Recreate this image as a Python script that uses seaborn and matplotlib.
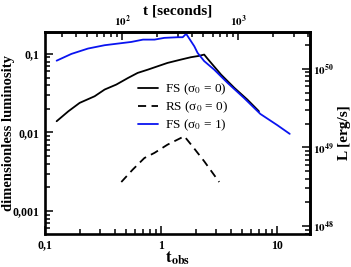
import numpy as np
import matplotlib
matplotlib.use("Agg")
import matplotlib.pyplot as plt
import seaborn as sns
from matplotlib.ticker import (FixedLocator, FixedFormatter, LogLocator, NullFormatter,
                               FuncFormatter)

sns.set_theme(style="ticks", rc={"axes.edgecolor": "black", "xtick.color": "black",
                                 "ytick.color": "black", "text.color": "black",
                                 "axes.labelcolor": "black"})
plt.rcParams['font.family'] = ['Liberation Serif', 'DejaVu Serif']
plt.rcParams['mathtext.fontset'] = 'stix'

# ---- data ----
fs0_t = [0.126, 0.159, 0.199, 0.268, 0.327, 0.412, 0.52, 0.63, 0.77, 0.94, 1.14, 1.49,
         1.81, 2.10, 2.36, 2.52, 3.3, 4.3, 5.56, 7.0]
fs0_l = [0.0139, 0.0186, 0.0238, 0.0289, 0.0352, 0.0407, 0.0494, 0.0573, 0.063, 0.0697,
         0.0768, 0.0847, 0.0907, 0.094, 0.098, 0.087, 0.0545, 0.0369, 0.0262, 0.0186]

rs0_t = [0.455, 0.57, 0.72, 0.88, 1.14, 1.59, 1.87, 2.36, 3.18]
rs0_l = [0.00234, 0.00336, 0.00473, 0.0055, 0.0070, 0.00895, 0.00667, 0.0043, 0.00234]

fs1_t = [0.126, 0.169, 0.235, 0.327, 0.455, 0.555, 0.70, 0.88, 1.07, 1.40, 1.54, 1.65,
         1.94, 2.07, 2.36, 2.88, 3.75, 5.20, 7.2, 10.07, 12.9]
fs1_l = [0.082, 0.100, 0.117, 0.129, 0.137, 0.142, 0.152, 0.152, 0.160, 0.163, 0.163, 0.180,
         0.125, 0.103, 0.081, 0.063, 0.0428, 0.0275, 0.0172, 0.0124, 0.0096]

series_labels = ["FS (σ$_0$ = 0)", "RS (σ$_0$ = 0)", "FS (σ$_0$ = 1)"]

x_ticks = [0.1, 1, 10]
x_ticklabels = ["0,1", "1", "10"]
y_ticks = [0.1, 0.01, 0.001]
y_ticklabels = ["0,1", "0,01", "0,001"]
top_ticks = [1e2, 1e3]
right_ticks = [1e48, 1e49, 1e50]

T_SCALE = 215.0      # t [s] = T_SCALE * t_obs
L_SCALE = 1.55e51    # L [erg/s] = L_SCALE * dimensionless luminosity

fig = plt.figure(figsize=(3.51, 2.67), dpi=100)
ax = fig.add_axes([45 / 351, 1 - 234 / 267, 265 / 351, 202 / 267])
ax.set_xscale("log")
ax.set_yscale("log")

sns.lineplot(x=fs0_t, y=fs0_l, ax=ax, color="black", lw=1.3, sort=False,
             label=series_labels[0])
sns.lineplot(x=rs0_t, y=rs0_l, ax=ax, color="black", lw=1.3, sort=False,
             linestyle=(0, (4.5, 3)), label=series_labels[1])
sns.lineplot(x=fs1_t, y=fs1_l, ax=ax, color="#0a14f0", lw=1.3, sort=False,
             label=series_labels[2])

ax.set_xlim(0.1, 19.3)
ax.set_ylim(5.1e-4, 0.19)

ax.xaxis.set_major_locator(FixedLocator(x_ticks))
ax.xaxis.set_major_formatter(FixedFormatter(x_ticklabels))
ax.xaxis.set_minor_locator(LogLocator(base=10, subs=range(2, 10)))
ax.xaxis.set_minor_formatter(NullFormatter())
ax.yaxis.set_major_locator(FixedLocator(y_ticks))
ax.yaxis.set_major_formatter(FixedFormatter(y_ticklabels))
ax.yaxis.set_minor_locator(LogLocator(base=10, subs=range(2, 10)))
ax.yaxis.set_minor_formatter(NullFormatter())

ax.tick_params(which="both", direction="in", top=False, right=False, width=1.1,
               labelsize=8.5, pad=4, colors="black")
ax.tick_params(which="major", length=6)
ax.tick_params(which="minor", length=3.5)
for lab in ax.get_xticklabels() + ax.get_yticklabels():
    lab.set_fontweight("bold")
for sp in ax.spines.values():
    sp.set_linewidth(1.9)

ax.set_xlabel(r"$\mathbf{t_{obs}}$", fontsize=12.5)
ax.xaxis.set_label_coords(0.5, -0.075)
ax.set_ylabel("dimensionless luminosity", fontsize=10.5, fontweight="bold")
ax.yaxis.set_label_coords(-0.115, 0.5)

pow_fmt = FuncFormatter(lambda v, p: r"$\mathbf{10^{%d}}$" % int(round(np.log10(v))))

secx = ax.secondary_xaxis("top", functions=(lambda x: x * T_SCALE, lambda x: x / T_SCALE))
secx.xaxis.set_major_locator(FixedLocator(top_ticks))
secx.xaxis.set_major_formatter(pow_fmt)
secx.xaxis.set_minor_locator(LogLocator(base=10, subs=range(2, 10)))
secx.xaxis.set_minor_formatter(NullFormatter())
secx.tick_params(which="both", direction="in", width=1.1, labelsize=8, pad=2)
secx.tick_params(which="major", length=6)
secx.tick_params(which="minor", length=3.5)
secx.set_xlabel("t [seconds]", fontsize=11, fontweight="bold", labelpad=0)
secx.spines["top"].set_linewidth(1.9)

secy = ax.secondary_yaxis("right", functions=(lambda y: y * L_SCALE, lambda y: y / L_SCALE))
secy.yaxis.set_major_locator(FixedLocator(right_ticks))
secy.yaxis.set_major_formatter(pow_fmt)
secy.yaxis.set_minor_locator(LogLocator(base=10, subs=range(2, 10)))
secy.yaxis.set_minor_formatter(NullFormatter())
secy.tick_params(which="both", direction="in", width=1.1, labelsize=8, pad=2)
secy.tick_params(which="major", length=6)
secy.tick_params(which="minor", length=3.5)
secy.set_ylabel("L [erg/s]", fontsize=11, fontweight="bold", labelpad=3)
secy.spines["right"].set_linewidth(1.9)

ax.legend(loc="upper left", bbox_to_anchor=(0.35, 0.755), frameon=False, fontsize=9.5,
          handlelength=1.5, handletextpad=0.6, labelspacing=0.2, borderpad=0,
          borderaxespad=0)

fig.savefig("out.png", dpi=100)
